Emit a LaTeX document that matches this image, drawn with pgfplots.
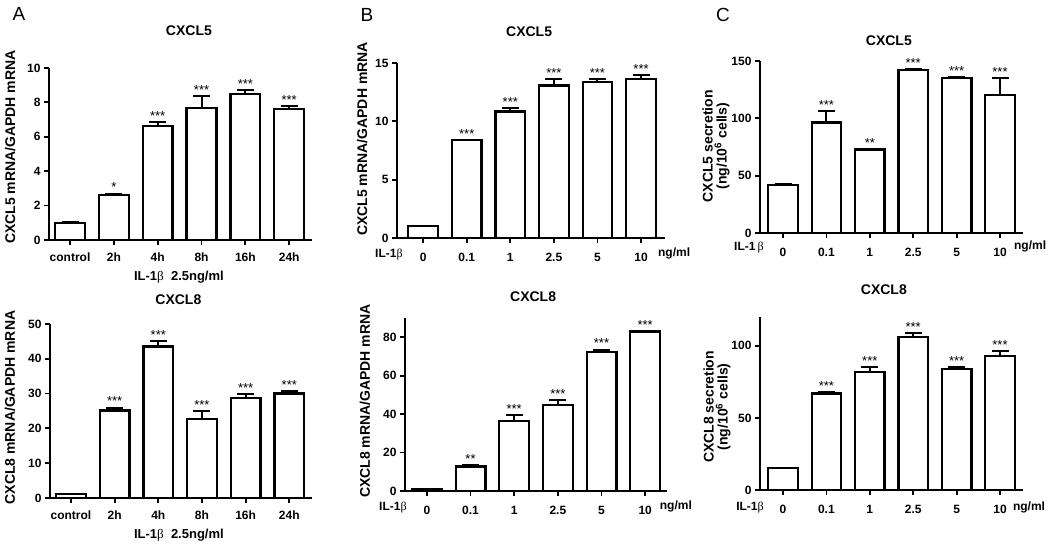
\documentclass[border=0pt]{standalone}
\usepackage{fontspec}
\setmainfont{Liberation Sans}
\newfontfamily\grk{Liberation Serif}
\usepackage{pgfplots}
\pgfplotsset{compat=1.18}
\newcommand{\fs}[1]{\fontsize{#1bp}{#1bp}\selectfont}
\newcommand{\bt}{{\grk\mdseries β}}
\pgfplotsset{
  panel/.style={
    scale only axis, anchor=south west,
    axis lines=left, axis line style={-, line width=2.3bp},
    tick align=outside, major tick length=5bp,
    tick style={line width=1.8bp, black},
    xtick={0,...,5}, minor tick num=0,
    /pgf/number format/assume math mode=true,
    tick label style={font=\fs{12}\bfseries},
    xticklabel style={yshift=-7bp},
    ymin=0, clip=false,
    title style={font=\fs{14}\bfseries, anchor=center},
    ylabel style={font=\fs{14}\bfseries, anchor=center, align=center},
  },
  bars/.style={ybar, bar width=0.68, fill=white, draw=black, line width=2.3bp,
    error bars/.cd, y dir=plus, y explicit,
    error bar style={line width=2bp},
    error mark options={rotate=90, mark size=8.5bp, line width=2bp}},
  stars/.style={draw=none, mark=none, nodes near coords, point meta=explicit symbolic,
    every node near coord/.style={anchor=south, inner sep=0pt, yshift=1.5bp, font=\fs{13}}},
}
\begin{document}
\begin{tikzpicture}[x=1bp,y=1bp]
\useasboundingbox (0,0) rectangle (1050,545);
\node[font=\fs{19}] at (19,531) {A};
\node[font=\fs{19}] at (367,530) {B};
\node[font=\fs{19}] at (723,530) {C};

% ---------- A top
\begin{axis}[panel, at={(49bp,305bp)}, width=263bp, height=172bp,
  xmin=-0.48, xmax=5.52, ymax=10, ytick={0,2,...,10},
  xticklabels={control,2h,4h,8h,16h,24h}, xticklabel style={yshift=3bp},
  title={CXCL5}, title style={at={(axis description cs:0.532,1.18)}},
  ylabel={CXCL5 mRNA/GAPDH mRNA}, ylabel style={at={(axis description cs:-0.148,0.54)}},
  xlabel={IL-1\bt\ \ 2.5ng/ml}, xlabel style={font=\fs{13}\bfseries, at={(axis description cs:0.494,-0.215)}, anchor=center}]
\addplot[bars] coordinates {(0,1.0)+-(0,0.03) (1,2.62)+-(0,0.08) (2,6.62)+-(0,0.24) (3,7.66)+-(0,0.72) (4,8.5)+-(0,0.2) (5,7.6)+-(0,0.17)};
\addplot[stars] coordinates {(1,2.70)[*] (2,6.86)[***] (3,8.38)[***] (4,8.70)[***] (5,7.77)[***]};
\end{axis}

% ---------- A bottom
\begin{axis}[panel, at={(50bp,47bp)}, width=262bp, height=174bp,
  xmin=-0.48, xmax=5.52, ymax=50, ytick={0,10,...,50},
  xticklabels={control,2h,4h,8h,16h,24h}, xticklabel style={yshift=3bp},
  title={CXCL8}, title style={at={(axis description cs:0.49,1.103)}},
  ylabel={CXCL8 mRNA/GAPDH mRNA}, ylabel style={at={(axis description cs:-0.153,0.52)}},
  xlabel={IL-1\bt\ \ 2.5ng/ml}, xlabel style={font=\fs{13}\bfseries, at={(axis description cs:0.492,-0.213)}, anchor=center}]
\addplot[bars] coordinates {(0,1.1)+-(0,0.1) (1,25.1)+-(0,0.9) (2,43.5)+-(0,1.5) (3,22.6)+-(0,2.3) (4,28.7)+-(0,1.2) (5,30.0)+-(0,0.8)};
\addplot[stars] coordinates {(1,26.0)[***] (2,45.0)[***] (3,24.9)[***] (4,29.9)[***] (5,30.8)[***]};
\end{axis}

% ---------- B top
\begin{axis}[panel, at={(397bp,307bp)}, width=268bp, height=175bp,
  xmin=-0.6, xmax=5.55, ymax=15, ytick={0,5,10,15},
  xticklabels={0,0.1,1,2.5,5,10},
  title={CXCL5}, title style={at={(axis description cs:0.493,1.143)}},
  ylabel={CXCL5 mRNA/GAPDH mRNA}, ylabel style={at={(axis description cs:-0.13,0.566)}}]
\addplot[bars] coordinates {(0,1.03)+-(0,0.02) (1,8.37)+-(0,0.03) (2,10.83)+-(0,0.27) (3,13.07)+-(0,0.53) (4,13.36)+-(0,0.29) (5,13.65)+-(0,0.34)};
\addplot[stars] coordinates {(1,8.40)[***] (2,11.10)[***] (3,13.60)[***] (4,13.65)[***] (5,13.99)[***]};
\node[font=\fs{12}\bfseries] at (axis description cs:-0.03,-0.097) {IL-1\bt};
\node[font=\fs{12}\bfseries] at (axis description cs:1.034,-0.086) {ng/ml};
\end{axis}

% ---------- B bottom
\begin{axis}[panel, at={(405bp,54bp)}, width=262bp, height=173bp,
  xmin=-0.5, xmax=5.5, ymax=90, ytick={0,20,...,80},
  xticklabels={0,0.1,1,2.5,5,10},
  title={CXCL8}, title style={at={(axis description cs:0.489,1.086)}},
  ylabel={CXCL8 mRNA/GAPDH mRNA}, ylabel style={at={(axis description cs:-0.153,0.52)}}]
\addplot[bars] coordinates {(0,1.0)+-(0,0.2) (1,12.8)+-(0,0.6) (2,36.4)+-(0,3.1) (3,44.6)+-(0,2.6) (4,72.2)+-(0,1.4) (5,83.0)+-(0,0.3)};
\addplot[stars] coordinates {(1,13.4)[**] (2,39.5)[***] (3,47.2)[***] (4,73.6)[***] (5,83.3)[***]};
\node[font=\fs{12}\bfseries] at (axis description cs:-0.046,-0.098) {IL-1\bt};
\node[font=\fs{12}\bfseries] at (axis description cs:1.034,-0.092) {ng/ml};
\end{axis}

% ---------- C top
\begin{axis}[panel, at={(760bp,312bp)}, width=263bp, height=172bp,
  xmin=-0.53, xmax=5.53, ymax=150, ytick={0,50,100,150},
  xticklabels={0,0.1,1,2.5,5,10},
  title={CXCL5}, title style={at={(axis description cs:0.49,1.081)}},
  ylabel={CXCL5 secretion\\(ng/10\textsuperscript{6} cells)}, ylabel style={at={(axis description cs:-0.167,0.505)}}]
\addplot[bars] coordinates {(0,42)+-(0,0.3) (1,96.3)+-(0,10.2) (2,72.8)+-(0,0.6) (3,142.4)+-(0,0.6) (4,134.9)+-(0,1.1) (5,120.1)+-(0,14.8)};
\addplot[stars] coordinates {(1,106.5)[***] (2,73.4)[**] (3,143.0)[***] (4,136.0)[***] (5,134.9)[***]};
\node[font=\fs{12}\bfseries] at (axis description cs:-0.042,-0.087) {IL-1\,\bt};
\node[font=\fs{12}\bfseries] at (axis description cs:1.027,-0.076) {ng/ml};
\end{axis}

% ---------- C bottom
\begin{axis}[panel, at={(760bp,55bp)}, width=263bp, height=173bp,
  xmin=-0.53, xmax=5.53, ymax=120, ytick={0,50,100},
  xticklabels={0,0.1,1,2.5,5,10},
  title={CXCL8}, title style={at={(axis description cs:0.471,1.126)}},
  ylabel={CXCL8 secretion\\(ng/10\textsuperscript{6} cells)}, ylabel style={at={(axis description cs:-0.163,0.48)}}]
\addplot[bars] coordinates {(0,15.3)+-(0,0.3) (1,66.9)+-(0,1.1) (2,81.9)+-(0,3.3) (3,106.3)+-(0,2.3) (4,84.0)+-(0,1.0) (5,93.1)+-(0,3.4)};
\addplot[stars] coordinates {(1,68.0)[***] (2,85.2)[***] (3,108.6)[***] (4,85.0)[***] (5,96.5)[***]};
\node[font=\fs{12}\bfseries] at (axis description cs:-0.038,-0.103) {IL-1\bt};
\node[font=\fs{12}\bfseries] at (axis description cs:1.023,-0.098) {ng/ml};
\end{axis}
\end{tikzpicture}
\end{document}
